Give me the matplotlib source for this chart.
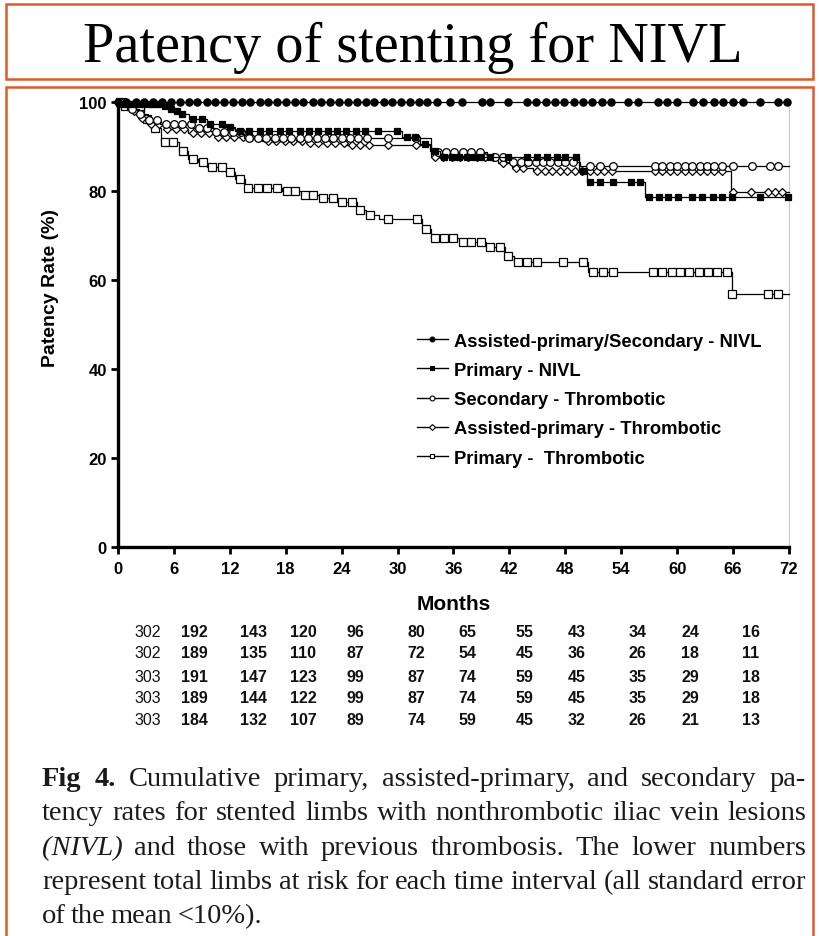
import numpy as np
import matplotlib
matplotlib.use('Agg')
import matplotlib.pyplot as plt
from matplotlib.patches import Rectangle
from matplotlib.lines import Line2D
from matplotlib import transforms

plt.rcParams['font.family'] = ['Liberation Sans', 'DejaVu Sans']

# --- curves: step times (months), patency values (%) and censor marks (months) ---
t_asec_nivl = [0]
s_asec_nivl = [100]
m_asec_nivl = [0.0, 0.9, 1.9, 2.8, 3.8, 4.7, 5.7, 6.6, 7.6, 8.5, 9.5, 10.4, 11.4, 12.3,
               13.3, 14.2, 15.2, 16.1, 17.1, 18.0, 19.0, 19.9, 20.9, 21.8, 22.8, 23.7,
               24.7, 25.6, 26.6, 27.5, 28.5, 29.4, 30.4, 31.3, 32.3, 33.2, 34.2, 35.6,
               36.9, 39.1, 39.9, 41.9, 43.9, 44.9, 45.9, 46.9, 47.9, 48.9, 49.9, 50.9,
               51.9, 52.9, 54.7, 55.8, 57.9, 58.9, 60.0, 61.7, 62.8, 63.9, 64.9, 66.0,
               67.1, 68.9, 70.8, 71.8]

t_prim_nivl = [0, 0.3, 4.6, 5.4, 6.0, 6.6, 7.6, 9.5, 11.6, 12.6, 30.5, 32.4, 33.5,
               34.5, 49.5, 50.3, 56.6]
s_prim_nivl = [100, 99.5, 99.0, 98.5, 98.0, 97.3, 96.2, 95.0, 94.4, 93.4, 92.2, 90.5,
               89.0, 87.7, 84.5, 82.0, 78.6]
m_prim_nivl = [0.5, 1.1, 1.6, 2.2, 2.7, 3.3, 3.8, 4.3, 5.0, 5.7, 6.3, 6.9, 8.0, 9.0,
               9.9, 11.2, 12.0, 13.1, 14.1, 15.2, 16.2, 17.4, 18.4, 19.5, 20.5, 21.5,
               22.5, 23.5, 24.5, 25.5, 26.5, 27.9, 29.9, 31.0, 31.9, 32.9, 34.0, 35.0,
               35.8, 36.6, 37.4, 38.2, 39.0, 39.9, 41.9, 43.9, 45.0, 46.0, 47.1, 48.0,
               49.1, 49.9, 50.7, 51.7, 53.1, 55.0, 56.0, 57.0, 58.0, 59.0, 60.1, 61.6,
               62.7, 63.8, 64.8, 65.9, 68.9, 71.9]

t_sec_thr = [0, 1.2, 2.2, 3.2, 4.5, 8.0, 10.5, 13.5, 33.6, 39.6, 41.6, 49.6]
s_sec_thr = [100, 98.5, 97.2, 96.0, 95.0, 94.2, 93.2, 92.0, 88.8, 87.6, 86.5, 85.7]
m_sec_thr = [0.6, 1.5, 2.4, 3.3, 4.2, 5.1, 6.0, 6.9, 7.8, 8.7, 9.6, 10.5, 11.4, 12.3,
             13.2, 14.1, 15.0, 15.9, 16.8, 17.7, 18.6, 19.5, 20.4, 21.3, 22.2, 23.1,
             24.0, 24.9, 25.8, 26.7, 29.0, 32.0, 34.3, 35.2, 36.1, 37.0, 37.9, 38.8,
             40.5, 41.3, 42.4, 43.2, 44.0, 44.8, 45.6, 46.4, 47.2, 48.0, 48.8, 50.7,
             51.7, 53.1, 57.6, 58.4, 59.2, 60.0, 60.8, 61.6, 62.4, 63.2, 64.0, 64.8,
             66.0, 68.0, 70.0, 70.8]

t_ap_thr = [0, 1.5, 2.5, 3.5, 5.0, 7.5, 10.5, 15.5, 20.5, 24.5, 33.6, 40.8, 42.3,
            44.5, 65.8]
s_ap_thr = [100, 98.0, 96.5, 95.0, 94.0, 93.0, 92.2, 91.3, 90.8, 90.3, 87.6, 86.2,
            85.2, 84.4, 79.7]
m_ap_thr = [0.8, 1.7, 2.6, 3.5, 4.4, 5.3, 6.2, 7.1, 8.0, 8.9, 9.8, 10.7, 11.6, 12.5,
            13.4, 14.3, 15.2, 16.1, 17.0, 17.9, 18.8, 19.7, 20.6, 21.5, 22.4, 23.3,
            24.2, 25.1, 26.0, 26.9, 29.0, 32.0, 34.0, 34.9, 35.8, 36.7, 37.6, 38.5,
            39.4, 40.2, 41.3, 42.7, 43.5, 45.0, 45.8, 46.6, 47.4, 48.2, 49.0, 49.8,
            50.6, 51.4, 52.2, 53.0, 57.6, 58.4, 59.2, 60.0, 60.8, 61.6, 62.4, 63.2,
            64.0, 64.8, 66.0, 67.9, 69.7, 70.5, 71.3]

t_prim_thr = [0, 0.5, 2.8, 3.6, 4.6, 6.5, 7.5, 8.6, 9.6, 11.6, 12.6, 13.6, 17.6, 19.6,
              21.6, 23.6, 25.6, 26.6, 28.0, 32.6, 33.6, 36.6, 39.5, 41.5, 42.5, 50.4,
              65.9]
s_prim_thr = [100, 99.2, 96.2, 94.2, 91.0, 89.0, 87.2, 86.5, 85.4, 84.3, 82.7, 80.7,
              80.0, 79.1, 78.4, 77.5, 75.7, 74.6, 73.7, 71.5, 69.4, 68.5, 67.4, 65.4,
              64.0, 61.8, 56.9]
m_prim_thr = [0.2, 0.8, 1.4, 2.0, 2.4, 3.1, 4.0, 5.0, 5.9, 7.0, 8.0, 9.1, 10.1, 11.2,
              12.0, 13.1, 14.0, 15.0, 16.0, 17.1, 18.1, 19.0, 20.1, 20.9, 22.0, 23.1,
              24.0, 25.1, 26.0, 27.0, 29.0, 32.1, 33.0, 34.0, 35.0, 36.0, 37.0, 37.9,
              38.9, 39.9, 41.0, 41.9, 42.9, 43.9, 45.0, 47.8, 49.9, 51.0, 52.0, 53.1,
              57.4, 58.4, 59.4, 60.3, 61.3, 62.3, 63.3, 64.3, 65.3, 65.9, 69.7, 70.8]

labels = ['Assisted-primary/Secondary - NIVL', 'Primary - NIVL', 'Secondary - Thrombotic',
          'Assisted-primary - Thrombotic', 'Primary -  Thrombotic']

# limbs at risk
risk_rows = [[302, 192, 143, 120, 96, 80, 65, 55, 43, 34, 24, 16],
             [302, 189, 135, 110, 87, 72, 54, 45, 36, 26, 18, 11],
             [303, 191, 147, 123, 99, 87, 74, 59, 45, 35, 29, 18],
             [303, 189, 144, 122, 99, 87, 74, 59, 45, 35, 29, 18],
             [303, 184, 132, 107, 89, 74, 59, 45, 32, 26, 21, 13]]

xticks = [0, 6, 12, 18, 24, 30, 36, 42, 48, 54, 60, 66, 72]
yticks = [0, 20, 40, 60, 80, 100]

title = 'Patency of stenting for NIVL'
caption = [
    [('Fig 4.', 'bold', 'normal'),
     ('Cumulative primary, assisted-primary, and secondary pa-', 'normal', 'normal')],
    [('tency rates for stented limbs with nonthrombotic iliac vein lesions', 'normal', 'normal')],
    [('(NIVL)', 'normal', 'italic'),
     ('and those with previous thrombosis. The lower numbers', 'normal', 'normal')],
    [('represent total limbs at risk for each time interval (all standard error', 'normal', 'normal')],
    [('of the mean <10%).', 'normal', 'normal')],
]

W, H = 819, 937
ORANGE = '#DC5B2B'
SERIF = ['Liberation Serif', 'DejaVu Serif']


def fx(px):
    return px / W


def fy(py):
    return 1 - py / H


def km_curve(ax, t, s, marks, marker, filled, ms, z):
    '''step line with censor marks sitting on it'''
    t = np.asarray(t, float)
    s = np.asarray(s, float)
    ax.step(np.append(t, 72), np.append(s, s[-1]), where='post', color='k',
            lw=0.9, clip_on=False, zorder=z)
    idx = np.searchsorted(t, marks, side='right') - 1
    ax.plot(marks, s[idx], ls='none', marker=marker, ms=ms,
            mfc='k' if filled else 'white', mec='k', mew=0.9,
            clip_on=False, zorder=z + 0.5)


fig = plt.figure(figsize=(W / 100, H / 100), dpi=100)

# framed title and body
fig.add_artist(Rectangle((fx(6), fy(80)), fx(807), 75 / H, transform=fig.transFigure,
                         fill=False, ec=ORANGE, lw=1.8))
fig.add_artist(Rectangle((fx(6), fy(945)), fx(807), 857 / H, transform=fig.transFigure,
                         fill=False, ec=ORANGE, lw=1.8))
fig.text(fx(413), fy(62), title, ha='center', va='baseline', family=SERIF, fontsize=40.5)

ax = fig.add_axes([fx(118), fy(548), (789 - 118) / W, (548 - 103) / H])
ax.set_xlim(0, 72)
ax.set_ylim(0, 100)
ax.set_xticks(xticks)
ax.set_yticks(yticks)
ax.spines['top'].set_visible(False)
ax.spines['right'].set_color('#c8c8c8')
ax.spines['right'].set_linewidth(0.8)
for side in ['left', 'bottom']:
    ax.spines[side].set_linewidth(2.4)
ax.tick_params(direction='out', length=5, width=2, labelsize=12, pad=3,
               right=False, top=False)
ax.tick_params(axis='x', pad=5)
for lbl in ax.get_xticklabels() + ax.get_yticklabels():
    lbl.set_fontweight('bold')
ax.set_xlabel('Months', fontsize=15, fontweight='bold', va='top')
ax.xaxis.set_label_coords(0.5, (548 - 595) / 445)
ax.set_ylabel('Patency Rate (%)', fontsize=14, fontweight='bold')
ax.yaxis.set_label_coords(-0.088, 0.584)

km_curve(ax, t_prim_thr, s_prim_thr, m_prim_thr, 's', False, 5.5, 3)
km_curve(ax, t_ap_thr, s_ap_thr, m_ap_thr, 'D', False, 4.5, 4)
km_curve(ax, t_sec_thr, s_sec_thr, m_sec_thr, 'o', False, 5.5, 5)
km_curve(ax, t_prim_nivl, s_prim_nivl, m_prim_nivl, 's', True, 5, 6)
km_curve(ax, t_asec_nivl, s_asec_nivl, m_asec_nivl, 'o', True, 5.2, 7)

styles = [('o', True), ('s', True), ('o', False), ('D', False), ('s', False)]
handles = [Line2D([], [], color='k', lw=1, marker=mk, ms=3.5 if mk != 'D' else 3,
                  mfc='k' if fill else 'white', mec='k', mew=0.8)
           for mk, fill in styles]
ax.legend(handles, labels, loc='upper left', bbox_to_anchor=(0.446, 0.482),
          frameon=False, prop={'weight': 'bold', 'size': 13.2}, handlelength=1.65,
          handletextpad=0.35, labelspacing=0.67, borderpad=0, borderaxespad=0)

# numbers at risk under the axis
risk_cols = [3.2, 8.2, 14.5, 19.9, 25.5, 32.0, 37.5, 43.6, 49.2, 55.7, 61.4, 67.9]
risk_y = [633, 654, 678, 699, 721]
trans = transforms.blended_transform_factory(ax.transData, fig.transFigure)
for row, ypx in zip(risk_rows, risk_y):
    for j, (n, xm) in enumerate(zip(row, risk_cols)):
        fig.text(xm, fy(ypx), str(n), transform=trans, ha='center', va='center',
                 fontsize=11.5, fontweight='normal' if j == 0 else 'bold', color='#111111')

# justified caption
renderer = fig.canvas.get_renderer()
x0, x1 = 42, 806
baselines = [786, 820, 855, 889, 923]
for i, segs in enumerate(caption):
    words = [(w, wt, st) for txt, wt, st in segs for w in txt.split()]
    arts = [fig.text(0, fy(baselines[i]), w, family=SERIF, fontsize=20.5,
                     fontweight=wt, fontstyle=st, va='baseline', color='#1a1a1a')
            for w, wt, st in words]
    widths = [a.get_window_extent(renderer).width for a in arts]
    if i < len(caption) - 1:
        gap = (x1 - x0 - sum(widths)) / (len(arts) - 1)
    else:
        gap = 5
    x = x0
    for a, w in zip(arts, widths):
        a.set_x(fx(x))
        x += w + gap

fig.savefig('out.png', dpi=100)
